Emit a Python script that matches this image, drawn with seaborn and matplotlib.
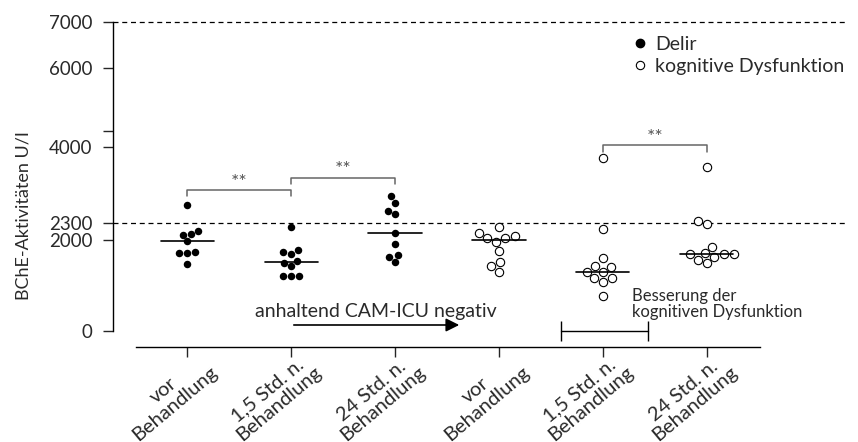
import numpy as np
import pandas as pd
import seaborn as sns
import matplotlib.pyplot as plt
import matplotlib.transforms as mtransforms
from matplotlib.lines import Line2D

# BChE-Aktivitaeten (U/l)
delir_vor = [2703, 2164, 2106, 2088, 1971, 1743, 1721, 1721, 1466]
delir_15 = [2234, 1780, 1736, 1692, 1539, 1488, 1429, 1215, 1215, 1215]
delir_24 = [2904, 2754, 2575, 2508, 2128, 1905, 1677, 1626, 1523]
kog_vor = [2229, 2123, 2070, 2035, 2035, 1956, 1758, 1517, 1429, 1297]
kog_15 = [3747, 2188, 1598, 1429, 1413, 1304, 1304, 1172, 1158, 1077, 769]
kog_24 = [3559, 2345, 2276, 1853, 1708, 1690, 1686, 1686, 1633, 1560, 1488]

order = ["D0", "D1", "D2", "K0", "K1", "K2"]
tick_labels = ["vor\nBehandlung", "1,5 Std. n.\nBehandlung", "24 Std. n.\nBehandlung",
               "vor\nBehandlung", "1,5 Std. n.\nBehandlung", "24 Std. n.\nBehandlung"]
y_ticks = [0, 2000, 2300, 4000, 4400, 6000, 7000]
y_ticklabels = ["0", "2000", "2300", "4000", "", "6000", "7000"]

rows = []
for key, vals, typ in [("D0", delir_vor, "Delir"), ("D1", delir_15, "Delir"), ("D2", delir_24, "Delir"),
                       ("K0", kog_vor, "kog"), ("K1", kog_15, "kog"), ("K2", kog_24, "kog")]:
    for v in vals:
        rows.append({"gruppe": key, "wert": v, "typ": typ})
df = pd.DataFrame(rows)

# the printed axis is not quite linear: piecewise scale through the ticks
sv = np.array([0, 2000, 2300, 4000, 6000, 7000], float)
sp = np.array([0, 91, 108, 184, 263, 309], float)

def fwd(v):
    v = np.asarray(v, float)
    out = np.interp(v, sv, sp)
    out = np.where(v < 0, v * 91 / 2000, out)
    out = np.where(v > 7000, 309 + (v - 7000) * 46 / 1000, out)
    return out

def inv(p):
    p = np.asarray(p, float)
    out = np.interp(p, sp, sv)
    out = np.where(p < 0, p * 2000 / 91, out)
    out = np.where(p > 309, 7000 + (p - 309) * 1000 / 46, out)
    return out

sns.set_style("ticks")
plt.rcParams["font.family"] = ["Lato", "DejaVu Sans"]
txt = "#2a2a2a"

fig = plt.figure(figsize=(8.58, 4.42), dpi=100)
ax = fig.add_axes([0.1317, 0.2149, 0.8531, 0.7353])
ax.set_yscale("function", functions=(fwd, inv))

sns.swarmplot(data=df[df.typ == "Delir"], x="gruppe", y="wert", order=order,
              color="black", size=5.4, ax=ax)
sns.swarmplot(data=df[df.typ == "kog"], x="gruppe", y="wert", order=order,
              color="white", edgecolor="black", linewidth=0.8, size=6, ax=ax)

# Medianlinien
for i, g in enumerate(order):
    med = np.median(df.loc[df.gruppe == g, "wert"])
    ax.plot([i - 0.255, i + 0.255], [med, med], color="black", lw=1.2, zorder=4)

ax.set_xlim(-0.712, 6.327)
ax.set_ylim(-352, 7000)

ax.axhline(7000, color="black", lw=0.9, ls=(0, (4, 3)), clip_on=False)
ax.axhline(2300, color="black", lw=0.9, ls=(0, (4, 3)))

# Signifikanzklammern
brackets = [(0, 1, 3038, 2904), (1, 2, 3307, 3172), (4, 5, 4051, 3888)]
star_y = [3200, 3490, 4235]
for (x1, x2, ytop, yleg), sy in zip(brackets, star_y):
    ax.plot([x1, x1, x2, x2], [yleg, ytop, ytop, yleg], color="#666666", lw=1.1)
    ax.text((x1 + x2) / 2, sy, "**", ha="center", va="center", fontsize=14, color="#555555")

# Pfeil
ax.annotate("", xy=(2.644, 132), xytext=(1.0, 132),
            arrowprops=dict(arrowstyle="-|>", color="black", lw=1.2, mutation_scale=20))
ax.text(0.654, 418, "anhaltend CAM-ICU negativ", ha="left", va="center", fontsize=14, color=txt)

# Besserung
ax.plot([3.6, 4.43], [0, 0], color="black", lw=1)
ax.plot([3.6, 4.43], [0, 0], ls="none", marker="|", ms=14, mew=1, color="black")
ax.text(4.28, 593, "Besserung der\nkognitiven Dysfunktion", ha="left", va="center",
        fontsize=12, color=txt, linespacing=1.0)

# Legende
handles = [Line2D([], [], ls="none", marker="o", ms=6, color="black"),
           Line2D([], [], ls="none", marker="o", ms=6, mfc="white", mec="black", mew=0.8)]
leg = ax.legend(handles, ["Delir", "kognitive Dysfunktion"], loc="upper left",
                bbox_to_anchor=(0.7105, 0.958), frameon=False, fontsize=14,
                handlelength=0.7, handletextpad=0.45, borderpad=0, borderaxespad=0,
                labelspacing=0.25)
for t in leg.get_texts():
    t.set_color(txt)

# Achsen
ax.set_yticks(y_ticks)
ax.set_yticklabels(y_ticklabels)
ax.set_xticks(range(len(order)))
ax.set_xticklabels(tick_labels, rotation=40, ha="center", va="top",
                   multialignment="center", linespacing=1.0)
ax.tick_params(axis="y", length=7, width=1, pad=8, labelsize=13.5, labelcolor=txt)
ax.tick_params(axis="x", length=7, width=1, pad=1, labelsize=14.5, labelcolor=txt)
shift = mtransforms.ScaledTranslation(-0.18, 0.08, fig.dpi_scale_trans)
for lab in ax.get_xticklabels():
    lab.set_transform(lab.get_transform() + shift)

sns.despine(ax=ax)
ax.spines["left"].set_bounds(0, 7000)
ax.spines["bottom"].set_bounds(-0.49, 5.51)
for s in ["left", "bottom"]:
    ax.spines[s].set_linewidth(1)
    ax.spines[s].set_color("black")

ax.set_xlabel("")
ax.set_ylabel("BChE-Aktivitäten U/I", fontsize=13, color=txt)
ax.yaxis.set_label_coords(-0.111, 0.406)

fig.savefig("out.png", dpi=100)
